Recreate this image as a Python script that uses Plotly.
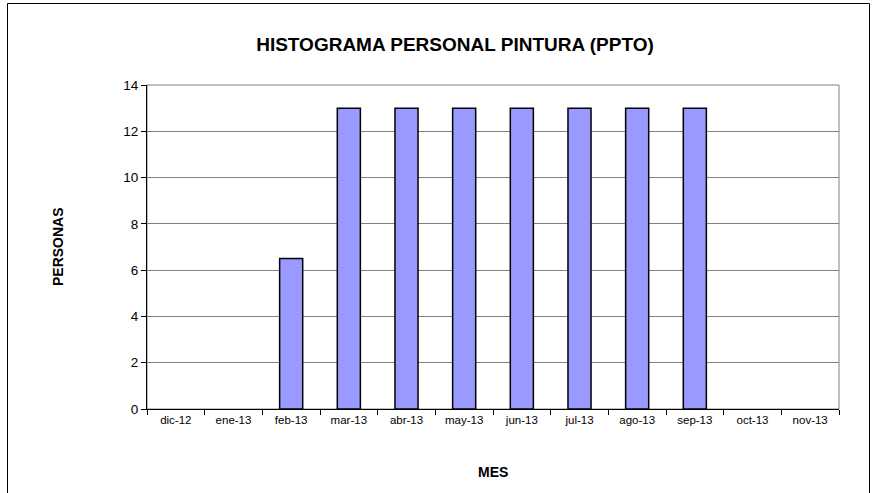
import plotly.graph_objects as go

months = ["dic-12", "ene-13", "feb-13", "mar-13", "abr-13", "may-13",
          "jun-13", "jul-13", "ago-13", "sep-13", "oct-13", "nov-13"]
personas = [0, 0, 6.5, 13, 13, 13, 13, 13, 13, 13, 0, 0]
y_ticks = [0, 2, 4, 6, 8, 10, 12, 14]

title_text = "HISTOGRAMA PERSONAL PINTURA (PPTO)"
x_title = "MES"
y_title = "PERSONAS"

W, H = 874, 493
L, R, T, B = 147, 35, 85, 84
pw = W - L - R
ph = H - T - B

def px_x(p):
    return (p - L) / pw

def px_y(p):
    return (H - B - p) / ph

FONT = "Liberation Sans, Arial, sans-serif"

fig = go.Figure(go.Bar(
    x=months, y=personas,
    marker=dict(color="#9999FF",
                line=dict(color="#000000",
                          width=[1.5 if v else 0 for v in personas])),
    width=0.4,
    hoverinfo="skip",
))

fig.update_layout(
    width=W, height=H,
    margin=dict(l=L, r=R, t=T, b=B),
    paper_bgcolor="white", plot_bgcolor="white",
    showlegend=False,
    font=dict(family=FONT, color="black"),
    title=dict(text="<b>" + title_text + "</b>", x=455 / W, xanchor="center",
               y=1 - 44 / H, yanchor="middle",
               font=dict(size=19, family=FONT, color="black")),
    shapes=[
        dict(type="rect", xref="paper", yref="paper", x0=0, x1=1, y0=0, y1=1,
             line=dict(color="#808080", width=1), layer="below"),
        dict(type="rect", xref="paper", yref="paper",
             x0=px_x(7.5), x1=px_x(869.5), y0=px_y(3.5), y1=px_y(520),
             line=dict(color="#000000", width=1), layer="below"),
    ],
    annotations=[
        dict(text="<b>" + y_title + "</b>", xref="paper", yref="paper",
             x=px_x(58), y=px_y(247), showarrow=False, textangle=-90,
             font=dict(size=14, family=FONT, color="black"),
             xanchor="center", yanchor="middle"),
        dict(text="<b>" + x_title + "</b>", xref="paper", yref="paper",
             x=px_x(493), y=px_y(472), showarrow=False,
             font=dict(size=14, family=FONT, color="black"),
             xanchor="center", yanchor="middle"),
    ],
)

fig.update_xaxes(
    type="category", categoryorder="array", categoryarray=months,
    showline=True, linecolor="black", linewidth=1,
    ticks="outside", tickson="boundaries", ticklen=5, tickcolor="black",
    showgrid=False, tickfont=dict(size=11.5, family=FONT, color="black"),
    range=[-0.5, len(months) - 0.5],
)
fig.update_yaxes(
    range=[0, 14], tickvals=y_ticks,
    showline=True, linecolor="black", linewidth=1,
    ticks="outside", ticklen=5, tickcolor="black",
    showgrid=True, gridcolor="#808080", gridwidth=1,
    zeroline=False,
    tickfont=dict(size=13.5, family=FONT, color="black"),
)

fig.write_html("out.html",
               config={"displayModeBar": False, "staticPlot": True},
               post_script="document.body.style.margin='0';document.body.style.overflow='hidden';")
